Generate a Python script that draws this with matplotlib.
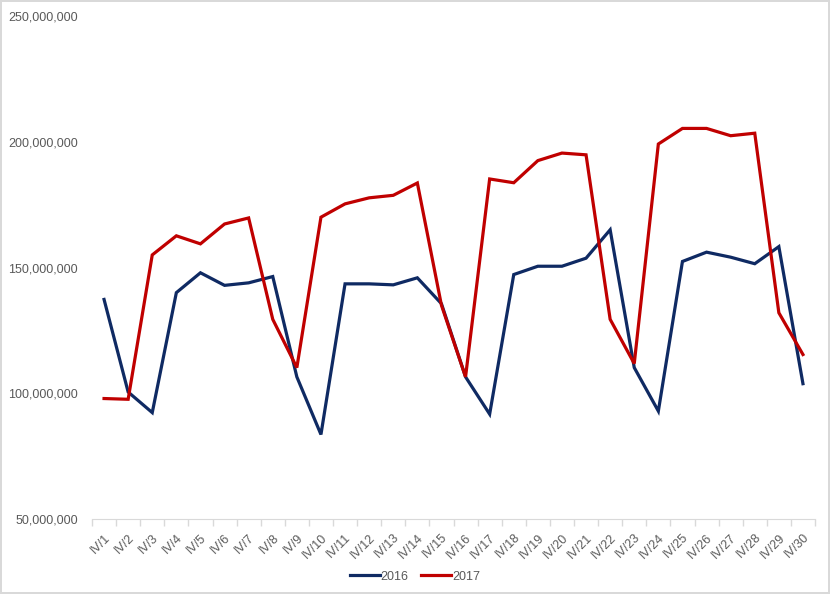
import matplotlib
matplotlib.use('Agg')
import matplotlib.pyplot as plt
from matplotlib.ticker import FuncFormatter, MultipleLocator
import numpy as np

# categories and series (values in millions)
labels = ['IV/%d' % i for i in range(1, 31)]
sales_2016 = [137.3, 100.5, 92.3, 140.0, 147.9, 142.9, 143.9, 146.4, 106.5, 83.6,
              143.5, 143.5, 143.1, 145.9, 135.6, 106.5, 91.7, 147.2, 150.5, 150.5,
              153.7, 165.0, 110.2, 92.9, 152.4, 156.1, 154.1, 151.5, 158.3, 103.8]
sales_2017 = [97.9, 97.6, 155.0, 162.6, 159.4, 167.3, 169.7, 129.4, 110.2, 170.0,
              175.3, 177.7, 178.7, 183.6, 135.0, 106.5, 185.2, 183.7, 192.5, 195.5,
              194.8, 129.4, 111.8, 199.1, 205.3, 205.3, 202.4, 203.4, 132.0, 115.4]

plt.rcParams['font.family'] = ['Liberation Sans', 'DejaVu Sans']
txt = '#595959'

fig = plt.figure(figsize=(8.3, 5.94), dpi=100)
fig.patch.set_edgecolor('#d9d9d9')
fig.patch.set_linewidth(1.5)
ax = fig.add_axes([92/830, 75/594, (815-92)/830, (519-16)/594])

x = np.arange(len(labels))
ax.plot(x, np.array(sales_2016)*1e6, color='#0f2a63', lw=2.3, label='2016',
        solid_joinstyle='miter')
ax.plot(x, np.array(sales_2017)*1e6, color='#c00000', lw=2.3, label='2017',
        solid_joinstyle='miter')

ax.set_xlim(-0.5, len(labels)-0.5)
ax.set_ylim(50e6, 250e6)
ax.yaxis.set_major_locator(MultipleLocator(50e6))
ax.yaxis.set_major_formatter(FuncFormatter(lambda v, p: '{:,.0f}'.format(v)))

ax.set_xticks(x)
ax.set_xticklabels(labels, rotation=45, ha='right', rotation_mode='anchor')
ax.set_xticks(np.arange(-0.5, len(labels)), minor=True)
ax.tick_params(axis='x', which='major', length=0, pad=9, labelsize=9, labelcolor=txt)
ax.tick_params(axis='x', which='minor', length=5, color='#d9d9d9', width=1)
ax.tick_params(axis='y', length=0, pad=10, labelsize=9, labelcolor=txt)

for s in ['top', 'right', 'left']:
    ax.spines[s].set_visible(False)
ax.spines['bottom'].set_color('#d9d9d9')

fig.legend(loc='lower center', bbox_to_anchor=(0.5, 0.0), ncol=2, frameon=False,
           fontsize=9, labelcolor=txt, handlelength=2.4, handletextpad=0.1,
           columnspacing=1.0)

fig.savefig('out.png', dpi=100)
